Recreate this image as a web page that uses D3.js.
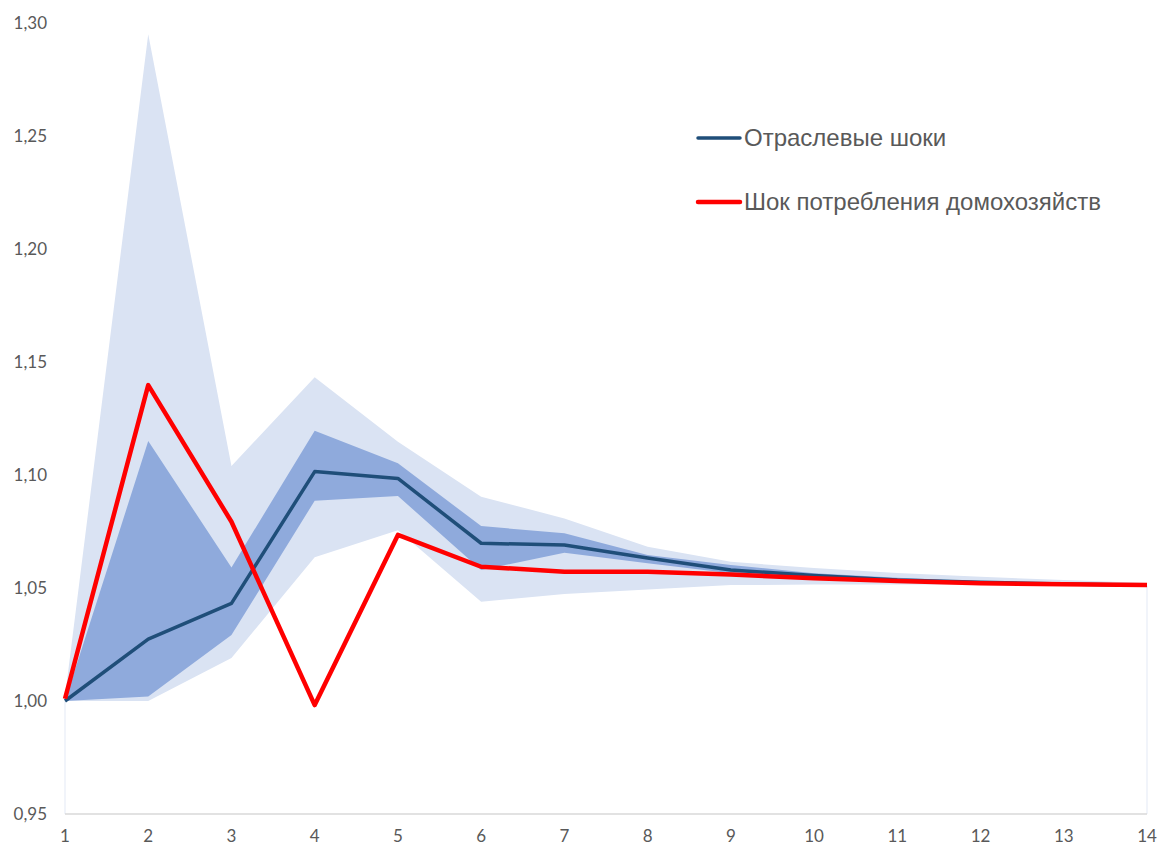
<!DOCTYPE html>
<html>
<head>
<meta charset="utf-8">
<script src="https://cdn.jsdelivr.net/npm/d3@7"></script>
<style>
  html, body { margin: 0; padding: 0; background: #ffffff; }
  svg { display: block; }
</style>
</head>
<body>
<svg id="chart" width="1160" height="848"></svg>
<script>
// ---- data ----
const periods = [1, 2, 3, 4, 5, 6, 7, 8, 9, 10, 11, 12, 13, 14];
const yTicks = [0.95, 1.00, 1.05, 1.10, 1.15, 1.20, 1.25, 1.30];

const outerLower = [1.000, 1.000, 1.019, 1.0636, 1.0755, 1.0439, 1.0473, 1.0493, 1.0513, 1.0515, 1.0515, 1.0514, 1.0512, 1.0510];
const outerUpper = [1.002, 1.295, 1.104, 1.1432, 1.1147, 1.0904, 1.0808, 1.0683, 1.0616, 1.0588, 1.0566, 1.0550, 1.0535, 1.0522];
const innerLower = [1.000, 1.002, 1.0292, 1.0886, 1.0907, 1.0580, 1.0656, 1.0609, 1.0565, 1.0545, 1.0530, 1.0520, 1.0515, 1.0510];
const innerUpper = [1.000, 1.115, 1.0591, 1.1196, 1.1052, 1.0774, 1.0742, 1.0646, 1.0602, 1.0565, 1.0545, 1.0530, 1.0522, 1.0515];

const sectorShocks = [1.000, 1.0274, 1.0432, 1.1015, 1.0985, 1.0698, 1.0690, 1.0633, 1.0580, 1.0555, 1.0535, 1.0525, 1.0518, 1.0512];
const householdShock = [1.001, 1.1398, 1.0793, 0.9982, 1.0735, 1.0594, 1.0572, 1.0572, 1.0560, 1.0543, 1.0531, 1.0521, 1.0517, 1.0513];

const seriesNames = ["Отраслевые шоки", "Шок потребления домохозяйств"];

// ---- layout ----
const svg = d3.select("#chart");
const plotLeft = 65, plotRight = 1147, plotTop = 23, plotBottom = 814;

const x = d3.scaleLinear().domain([1, 14]).range([plotLeft, plotRight]);
const y = d3.scaleLinear().domain([0.95, 1.30]).range([plotBottom, plotTop]);

const fmt = v => d3.format(".2f")(v).replace(".", ",");

// bands
const band = (lo, hi) => d3.area()
  .x((d, i) => x(periods[i]))
  .y0((d, i) => y(lo[i]))
  .y1((d, i) => y(hi[i]));

svg.append("path")
  .attr("d", band(outerLower, outerUpper)(periods))
  .attr("fill", "#dae3f3");

svg.append("path")
  .attr("d", band(innerLower, innerUpper)(periods))
  .attr("fill", "#8faadc");

// faint base outline at plot edges
const n = periods.length;
svg.append("line")
  .attr("x1", x(periods[0])).attr("x2", x(periods[0]))
  .attr("y1", y(0.95)).attr("y2", y(outerLower[0]))
  .attr("stroke", "#e3e9f5").attr("stroke-width", 1);
svg.append("line")
  .attr("x1", x(periods[n - 1])).attr("x2", x(periods[n - 1]))
  .attr("y1", y(0.95)).attr("y2", y(outerLower[n - 1]))
  .attr("stroke", "#e3e9f5").attr("stroke-width", 1);

// x axis line
svg.append("line")
  .attr("x1", plotLeft).attr("x2", plotRight)
  .attr("y1", y(0.95)).attr("y2", y(0.95))
  .attr("stroke", "#d9d9d9").attr("stroke-width", 1.3);

// lines
const line = vals => d3.line()
  .x((d, i) => x(periods[i]))
  .y((d, i) => y(vals[i]));

svg.append("path")
  .attr("d", line(sectorShocks)(periods))
  .attr("fill", "none")
  .attr("stroke", "#1f4e79")
  .attr("stroke-width", 3.5)
  .attr("stroke-linejoin", "round");

svg.append("path")
  .attr("d", line(householdShock)(periods))
  .attr("fill", "none")
  .attr("stroke", "#ff0000")
  .attr("stroke-width", 4.5)
  .attr("stroke-linejoin", "round");

// y tick labels
svg.append("g").selectAll("text")
  .data(yTicks).join("text")
  .attr("x", 47)
  .attr("y", d => y(d))
  .attr("dy", "0.35em")
  .attr("text-anchor", "end")
  .attr("font-family", "Lato, 'Open Sans', sans-serif")
  .attr("font-size", 17)
  .attr("fill", "#595959")
  .text(d => fmt(d));

// x tick labels
svg.append("g").selectAll("text")
  .data(periods).join("text")
  .attr("x", d => x(d))
  .attr("y", 842)
  .attr("text-anchor", "middle")
  .attr("font-family", "Lato, 'Open Sans', sans-serif")
  .attr("font-size", 17)
  .attr("fill", "#595959")
  .text(d => d);

// legend
const legend = [
  { name: seriesNames[0], color: "#1f4e79", w: 3.5, y: 138 },
  { name: seriesNames[1], color: "#ff0000", w: 4.5, y: 202 }
];
const lg = svg.append("g");
legend.forEach(l => {
  lg.append("line")
    .attr("x1", 698).attr("x2", 740)
    .attr("y1", l.y).attr("y2", l.y)
    .attr("stroke", l.color).attr("stroke-width", l.w)
    .attr("stroke-linecap", "round");
  lg.append("text")
    .attr("x", 744).attr("y", l.y)
    .attr("dy", "0.35em")
    .attr("font-family", "'Liberation Sans', Arial, sans-serif")
    .attr("font-size", 24)
    .attr("fill", "#595959")
    .text(l.name);
});
</script>
</body>
</html>
